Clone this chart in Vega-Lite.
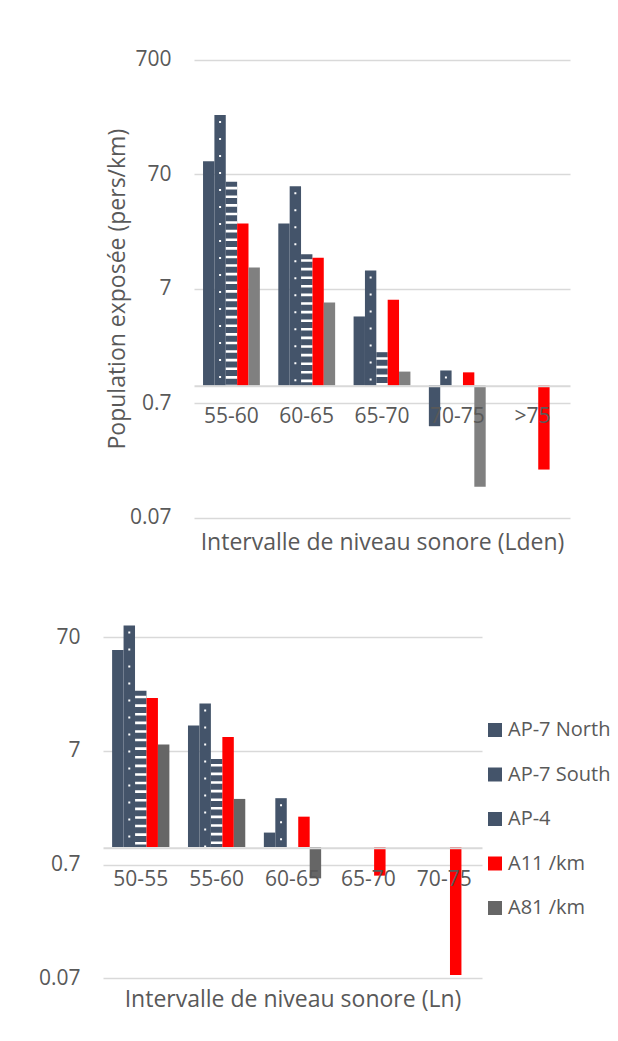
{
  "$schema": "https://vega.github.io/schema/vega-lite/v6.json",
  "width": 618,
  "height": 1041,
  "autosize": {"type": "none"},
  "padding": 0,
  "background": "white",
  "config": {
    "view": {"stroke": null},
    "font": "Open Sans",
    "axis": {
      "labelFont": "Open Sans",
      "titleFont": "Open Sans",
      "labelColor": "#595959",
      "titleColor": "#595959",
      "labelFontSize": 21,
      "titleFontSize": 23,
      "titleFontWeight": "normal",
      "gridColor": "#D9D9D9",
      "gridWidth": 1.6,
      "ticks": false,
      "tickSize": 0
    },
    "legend": {"labelFont": "Open Sans", "labelColor": "#595959"}
  },
  "data": {
    "values": [
      {"panel": "Lden", "cat": "55-60", "series": "AP-7 North", "value": 91},
      {"panel": "Lden", "cat": "55-60", "series": "AP-7 South", "value": 230},
      {"panel": "Lden", "cat": "55-60", "series": "AP-4", "value": 60},
      {"panel": "Lden", "cat": "55-60", "series": "A11 /km", "value": 26},
      {"panel": "Lden", "cat": "55-60", "series": "A81 /km", "value": 10.7},
      {"panel": "Lden", "cat": "60-65", "series": "AP-7 North", "value": 26},
      {"panel": "Lden", "cat": "60-65", "series": "AP-7 South", "value": 55},
      {"panel": "Lden", "cat": "60-65", "series": "AP-4", "value": 14},
      {"panel": "Lden", "cat": "60-65", "series": "A11 /km", "value": 13},
      {"panel": "Lden", "cat": "60-65", "series": "A81 /km", "value": 5.3},
      {"panel": "Lden", "cat": "65-70", "series": "AP-7 North", "value": 4.0},
      {"panel": "Lden", "cat": "65-70", "series": "AP-7 South", "value": 10.1},
      {"panel": "Lden", "cat": "65-70", "series": "AP-4", "value": 1.95},
      {"panel": "Lden", "cat": "65-70", "series": "A11 /km", "value": 5.6},
      {"panel": "Lden", "cat": "65-70", "series": "A81 /km", "value": 1.32},
      {"panel": "Lden", "cat": "70-75", "series": "AP-7 North", "value": 0.44},
      {"panel": "Lden", "cat": "70-75", "series": "AP-7 South", "value": 1.35},
      {"panel": "Lden", "cat": "70-75", "series": "A11 /km", "value": 1.3},
      {"panel": "Lden", "cat": "70-75", "series": "A81 /km", "value": 0.13},
      {"panel": "Lden", "cat": ">75", "series": "A11 /km", "value": 0.184},
      {"panel": "Ln", "cat": "50-55", "series": "AP-7 North", "value": 54},
      {"panel": "Ln", "cat": "50-55", "series": "AP-7 South", "value": 89},
      {"panel": "Ln", "cat": "50-55", "series": "AP-4", "value": 23.7},
      {"panel": "Ln", "cat": "50-55", "series": "A11 /km", "value": 20.5},
      {"panel": "Ln", "cat": "50-55", "series": "A81 /km", "value": 8.0},
      {"panel": "Ln", "cat": "55-60", "series": "AP-7 North", "value": 11.7},
      {"panel": "Ln", "cat": "55-60", "series": "AP-7 South", "value": 18.3},
      {"panel": "Ln", "cat": "55-60", "series": "AP-4", "value": 5.95},
      {"panel": "Ln", "cat": "55-60", "series": "A11 /km", "value": 9.3},
      {"panel": "Ln", "cat": "55-60", "series": "A81 /km", "value": 2.65},
      {"panel": "Ln", "cat": "60-65", "series": "AP-7 North", "value": 1.34},
      {"panel": "Ln", "cat": "60-65", "series": "AP-7 South", "value": 2.69},
      {"panel": "Ln", "cat": "60-65", "series": "A11 /km", "value": 1.85},
      {"panel": "Ln", "cat": "60-65", "series": "A81 /km", "value": 0.53},
      {"panel": "Ln", "cat": "65-70", "series": "A11 /km", "value": 0.56},
      {"panel": "Ln", "cat": "70-75", "series": "A11 /km", "value": 0.075}
    ]
  },
  "layer": [
    {
      "transform": [{"filter": "datum.panel == 'Lden'"}],
      "layer": [
        {
          "mark": {"type": "bar"},
          "encoding": {
            "x": {
              "field": "cat", "type": "nominal",
              "scale": {"domain": ["55-60", "60-65", "65-70", "70-75", ">75"], "range": [194, 570], "paddingInner": 0.245, "paddingOuter": 0.12},
              "axis": {
                "orient": "bottom", "offset": -655.3, "labelAngle": 0, "labelPadding": 31, "labelBaseline": "middle",
                "domainColor": "#D9D9D9", "domainWidth": 2, "grid": false, "zindex": 1,
                "title": "Intervalle de niveau sonore (Lden)", "titleY": 157, "titleBaseline": "middle"
              }
            },
            "xOffset": {
              "field": "series", "type": "nominal",
              "scale": {"domain": ["AP-7 North", "AP-7 South", "AP-4", "A11 /km", "A81 /km"], "paddingInner": 0, "paddingOuter": 0}
            },
            "y": {
              "field": "value", "type": "quantitative",
              "scale": {"type": "log", "domain": [0.07, 700], "range": [517.6, 59.7], "nice": false},
              "axis": {
                "orient": "left", "offset": -175, "values": [0.07, 0.7, 7, 70, 700], "labelExpr": "'' + datum.value",
                "labelPadding": 4, "domain": false, "grid": true,
                "title": "Population exposée (pers/km)", "titleX": -58, "titleBaseline": "middle"
              }
            },
            "y2": {"datum": 1},
            "color": {
              "field": "series", "type": "nominal",
              "scale": {"domain": ["AP-7 North", "AP-7 South", "AP-4", "A11 /km", "A81 /km"], "range": ["#44546A", "#44546A", "#44546A", "#FF0000", "#808080"]},
              "legend": null
            }
          }
        },
        {
          "transform": [{"filter": "datum.series == 'AP-7 South'"}],
          "mark": {"type": "rule", "stroke": "white", "strokeWidth": 2, "strokeDash": [2, 15], "strokeDashOffset": -6},
          "encoding": {
            "x": {"field": "cat", "type": "nominal"},
            "xOffset": {"field": "series", "type": "nominal"},
            "y": {"field": "value", "type": "quantitative"},
            "y2": {"datum": 1}
          }
        },
        {
          "transform": [{"filter": "datum.series == 'AP-4'"}],
          "mark": {"type": "rule", "stroke": "white", "strokeWidth": 11.3, "strokeDash": [2.6, 6], "strokeDashOffset": -5},
          "encoding": {
            "x": {"field": "cat", "type": "nominal"},
            "xOffset": {"field": "series", "type": "nominal"},
            "y": {"field": "value", "type": "quantitative"},
            "y2": {"datum": 1}
          }
        }
      ]
    },
    {
      "transform": [{"filter": "datum.panel == 'Ln'"}],
      "layer": [
        {
          "mark": {"type": "bar"},
          "encoding": {
            "x": {
              "field": "cat", "type": "nominal",
              "scale": {"domain": ["50-55", "55-60", "60-65", "65-70", "70-75"], "range": [103, 482], "paddingInner": 0.245, "paddingOuter": 0.12},
              "axis": {
                "orient": "bottom", "offset": -193.3, "labelAngle": 0, "labelPadding": 32, "labelBaseline": "middle",
                "domainColor": "#D9D9D9", "domainWidth": 2, "grid": false, "zindex": 1,
                "title": "Intervalle de niveau sonore (Ln)", "titleY": 152, "titleBaseline": "middle"
              }
            },
            "xOffset": {
              "field": "series", "type": "nominal",
              "scale": {"domain": ["AP-7 North", "AP-7 South", "AP-4", "A11 /km", "A81 /km"], "paddingInner": 0, "paddingOuter": 0}
            },
            "y": {
              "field": "value", "type": "quantitative",
              "scale": {"type": "log", "domain": [0.07, 90], "range": [978.3, 624.9], "nice": false},
              "axis": {
                "orient": "left", "offset": -84, "values": [0.07, 0.7, 7, 70], "labelExpr": "'' + datum.value",
                "labelPadding": 4, "domain": false, "grid": true, "title": null
              }
            },
            "y2": {"datum": 1},
            "color": {
              "field": "series", "type": "nominal",
              "scale": {"domain": ["AP-7 North", "AP-7 South", "AP-4", "A11 /km", "A81 /km"], "range": ["#44546A", "#44546A", "#44546A", "#FF0000", "#666666"]},
              "legend": {
                "orient": "none", "legendX": 485, "legendY": 720, "title": null, "padding": 0,
                "symbolType": "square", "symbolSize": 196, "symbolStrokeWidth": 0,
                "labelFontSize": 20, "labelOffset": 3, "rowPadding": 24.5, "labelLimit": 300
              }
            }
          }
        },
        {
          "transform": [{"filter": "datum.series == 'AP-7 South'"}],
          "mark": {"type": "rule", "stroke": "white", "strokeWidth": 2, "strokeDash": [2, 15], "strokeDashOffset": -6},
          "encoding": {
            "x": {"field": "cat", "type": "nominal"},
            "xOffset": {"field": "series", "type": "nominal"},
            "y": {"field": "value", "type": "quantitative"},
            "y2": {"datum": 1}
          }
        },
        {
          "transform": [{"filter": "datum.series == 'AP-4'"}],
          "mark": {"type": "rule", "stroke": "white", "strokeWidth": 11.3, "strokeDash": [2.6, 6], "strokeDashOffset": -5},
          "encoding": {
            "x": {"field": "cat", "type": "nominal"},
            "xOffset": {"field": "series", "type": "nominal"},
            "y": {"field": "value", "type": "quantitative"},
            "y2": {"datum": 1}
          }
        }
      ]
    }
  ],
  "resolve": {"scale": {"x": "independent", "y": "independent", "xOffset": "independent", "color": "independent"}}
}
